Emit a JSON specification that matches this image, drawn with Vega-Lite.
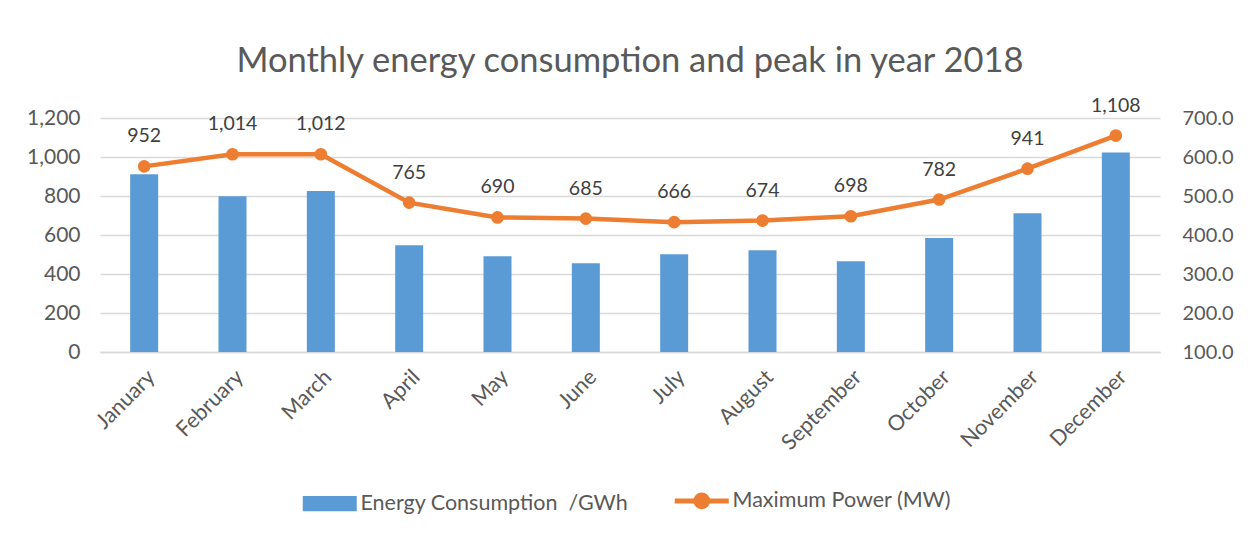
{
  "$schema": "https://vega.github.io/schema/vega-lite/v6.json",
  "autosize": {"type": "none"},
  "width": 1060,
  "height": 234,
  "padding": {"left": 100, "top": 118, "right": 92, "bottom": 188},
  "background": "white",
  "title": {
    "text": "Monthly energy consumption and peak in year 2018",
    "font": "Lato",
    "fontSize": 34.5,
    "fontWeight": "normal",
    "color": "#595959",
    "anchor": "middle",
    "offset": 16
  },
  "config": {
    "view": {"stroke": null},
    "font": "Lato",
    "axis": {"labelFont": "Lato", "labelColor": "#595959", "labelFontSize": 20, "ticks": false, "title": null}
  },
  "data": {
    "values": [
      {"month": "January", "energy": 912, "power": 576, "label": "952"},
      {"month": "February", "energy": 799, "power": 607, "label": "1,014"},
      {"month": "March", "energy": 826, "power": 607, "label": "1,012"},
      {"month": "April", "energy": 547, "power": 483, "label": "765"},
      {"month": "May", "energy": 491, "power": 445, "label": "690"},
      {"month": "June", "energy": 455, "power": 442, "label": "685"},
      {"month": "July", "energy": 501, "power": 433, "label": "666"},
      {"month": "August", "energy": 522, "power": 437, "label": "674"},
      {"month": "September", "energy": 466, "power": 448, "label": "698"},
      {"month": "October", "energy": 585, "power": 491, "label": "782"},
      {"month": "November", "energy": 712, "power": 570, "label": "941"},
      {"month": "December", "energy": 1023, "power": 655, "label": "1,108"}
    ]
  },
  "encoding": {
    "x": {
      "field": "month",
      "type": "nominal",
      "sort": null,
      "scale": {"paddingInner": 0, "paddingOuter": 0},
      "axis": {
        "labelAngle": -45,
        "labelPadding": 14,
        "labelFontSize": 21.5,
        "domain": true,
        "domainColor": "#D9D9D9",
        "domainWidth": 1.5,
        "grid": false
      }
    }
  },
  "layer": [
    {
      "mark": {"type": "bar", "size": 28, "color": "#5B9BD5"},
      "encoding": {
        "y": {
          "field": "energy",
          "type": "quantitative",
          "scale": {"domain": [0, 1200], "nice": false},
          "axis": {
            "values": [0, 200, 400, 600, 800, 1000, 1200],
            "format": ",d",
            "domain": false,
            "grid": true,
            "gridColor": "#D9D9D9",
            "gridWidth": 1.5,
            "labelFontSize": 21,
            "labelPadding": 20
          }
        },
        "color": {
          "datum": "Energy Consumption \u00a0/GWh",
          "type": "nominal",
          "scale": {
            "domain": ["Energy Consumption \u00a0/GWh", "Maximum Power (MW)"],
            "range": ["#5B9BD5", "#ED7D31"]
          },
          "legend": {
            "orient": "none",
            "legendX": 219,
            "legendY": 372,
            "direction": "horizontal",
            "title": null,
            "labelFont": "Lato",
            "labelFontSize": 21.5,
            "labelColor": "#595959",
            "labelLimit": 400,
            "labelOffset": 20,
            "columnPadding": 35,
            "symbolSize": 2916,
            "encode": {
              "symbols": {
                "update": {
                  "shape": {"signal": "datum.value === 'Maximum Power (MW)' ? 'M-1,0H1M-0.22,0A0.22,0.22 0 1,0 0.22,0A0.22,0.22 0 1,0 -0.22,0Z' : 'M-1,-0.28H1V0.28H-1Z'"},
                  "fill": {"signal": "datum.value === 'Maximum Power (MW)' ? '#ED7D31' : '#5B9BD5'"},
                  "stroke": {"signal": "datum.value === 'Maximum Power (MW)' ? '#ED7D31' : '#5B9BD5'"},
                  "strokeWidth": {"signal": "datum.value === 'Maximum Power (MW)' ? 5 : 0"},
                  "opacity": {"value": 1},
                  "fillOpacity": {"value": 1}
                }
              }
            }
          }
        }
      }
    },
    {
      "encoding": {
        "y": {
          "field": "power",
          "type": "quantitative",
          "scale": {"domain": [100, 700], "nice": false},
          "axis": {
            "orient": "right",
            "values": [100, 200, 300, 400, 500, 600, 700],
            "format": ".1f",
            "domain": false,
            "grid": false,
            "labelPadding": 22
          }
        }
      },
      "layer": [
        {
          "mark": {"type": "line", "color": "#ED7D31", "strokeWidth": 4.5, "point": {"filled": true, "size": 160, "color": "#ED7D31", "opacity": 1}},
          "encoding": {
            "color": {"datum": "Maximum Power (MW)", "type": "nominal"}
          }
        },
        {
          "mark": {"type": "text", "font": "Lato", "fontSize": 19.5, "color": "#404040", "dy": -30, "baseline": "middle"},
          "encoding": {
            "text": {"field": "label"}
          }
        }
      ]
    }
  ],
  "resolve": {"scale": {"y": "independent"}}
}
